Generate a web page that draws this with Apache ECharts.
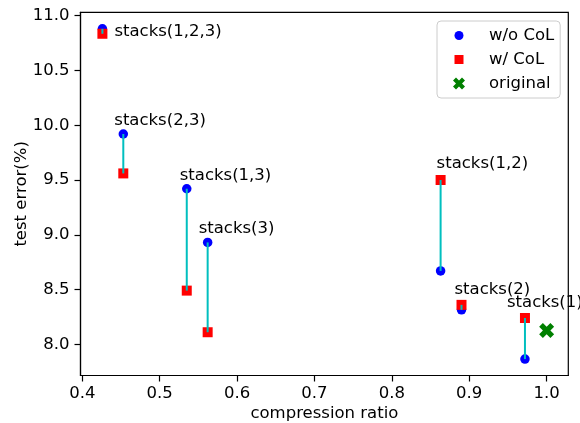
<!DOCTYPE html>
<html><head><meta charset="utf-8">
<script src="https://cdn.jsdelivr.net/npm/echarts@6/dist/echarts.min.js"></script>
<style>html,body{margin:0;padding:0;background:#fff}#c{width:580px;height:423px}</style>
</head><body><div id="c"></div>
<script>
const names = ['stacks(1,2,3)','stacks(2,3)','stacks(1,3)','stacks(3)','stacks(1,2)','stacks(2)','stacks(1)'];
const ratio = [0.426, 0.453, 0.535, 0.562, 0.863, 0.890, 0.972];
const woCoL = [10.88, 9.92, 9.42, 8.93, 8.67, 8.315, 7.865];
const wCoL  = [10.835, 9.56, 8.49, 8.11, 9.50, 8.36, 8.24];
const original = [[1.0, 8.125]];
const xTicks = [0.4, 0.5, 0.6, 0.7, 0.8, 0.9, 1.0];
const yTicks = [8.0, 8.5, 9.0, 9.5, 10.0, 10.5, 11.0];
// label pixel offsets (style only)
const labelOffsets = [[12,3],[-9,-13],[-7,-13],[-9,-14],[-4,-16],[-7,-15],[-18,-15]];

const FONT = 'DejaVu Sans';
const FS = 16.5;
const xPath = 'path://M0,3 L3,0 L6,3 L9,0 L12,3 L9,6 L12,9 L9,12 L6,9 L3,12 L0,9 L3,6 Z';
const legCircle = 'path://M0,0 M14,14 M11.5,7 A4.5,4.5 0 1 1 2.5,7 A4.5,4.5 0 1 1 11.5,7 Z';
const legRect = 'path://M0,0 M14,14 M2.5,2.5 L11.5,2.5 L11.5,11.5 L2.5,11.5 Z';
const legX = 'path://M0,0 M14,14 M1,4 L4,1 L7,4 L10,1 L13,4 L10,7 L13,10 L10,13 L7,10 L4,13 L1,10 L4,7 Z';
const chart = echarts.init(document.getElementById('c'), null, {renderer:'canvas'});
const pairs = ratio.map((x,i)=>[x, woCoL[i], wCoL[i], i]);
chart.setOption({
  animation:false,
  textStyle:{fontFamily:FONT},
  grid:{left:80.5, right:11.7, top:12.3, bottom:47.5, containLabel:false, outerBoundsMode:'none',
        show:true, borderColor:'#000', borderWidth:1.2, backgroundColor:'transparent'},
  xAxis:{type:'value', min:0.3977, max:1.028,
    name:'compression ratio', nameLocation:'middle', nameGap:30, nameMoveOverlap:false,
    nameTextStyle:{fontFamily:FONT, fontSize:FS, color:'#000'},
    axisLine:{show:true, onZero:false, lineStyle:{color:'#000', width:1.2}},
    axisTick:{show:true, length:6, inside:false, customValues:xTicks, lineStyle:{color:'#000', width:1.2}},
    axisLabel:{customValues:xTicks, fontFamily:FONT, fontSize:FS, color:'#000', margin:10, formatter:v=>v.toFixed(1)},
    splitLine:{show:false}},
  yAxis:{type:'value', min:7.715, max:11.031,
    name:'test error(%)', nameLocation:'middle', nameGap:50.5, nameRotate:90, nameMoveOverlap:false,
    nameTextStyle:{fontFamily:FONT, fontSize:FS, color:'#000'},
    axisLine:{show:true, onZero:false, lineStyle:{color:'#000', width:1.2}},
    axisTick:{show:true, length:6, customValues:yTicks, lineStyle:{color:'#000', width:1.2}},
    axisLabel:{customValues:yTicks, fontFamily:FONT, fontSize:FS, color:'#000', margin:11, formatter:v=>v.toFixed(1)},
    splitLine:{show:false}},
  legend:{
    orient:'vertical', left:437, top:21,
    data:[{name:'w/o CoL', icon:legCircle},{name:'w/ CoL', icon:legRect},{name:'original', icon:legX}],
    itemWidth:14, itemHeight:14, itemGap:7,
    padding:[6,6,6,15],
    borderColor:'#cccccc', borderWidth:1, borderRadius:4, backgroundColor:'rgba(255,255,255,0.8)',
    textStyle:{fontFamily:FONT, fontSize:FS, color:'#000', padding:[0,0,0,18]}
  },
  series:[
    {name:'w/o CoL', type:'scatter', symbol:'circle', symbolSize:9.5, itemStyle:{color:'#0000ff', opacity:1},
     data:ratio.map((x,i)=>[x, woCoL[i]]), z:2},
    {name:'w/ CoL', type:'scatter', symbol:'rect', symbolSize:10, itemStyle:{color:'#ff0000', opacity:1},
     data:ratio.map((x,i)=>[x, wCoL[i]]), z:2},
    {name:'original', type:'scatter', symbol:xPath, symbolSize:15, itemStyle:{color:'#008000', opacity:1},
     data:original, z:2},
    {name:'pairs', type:'custom', z:5, data:pairs, silent:true,
     renderItem:(params, api)=>{
       const x = api.value(0), a = api.value(1), b = api.value(2), i = api.value(3);
       const p1 = api.coord([x,a]), p2 = api.coord([x,b]);
       const top = a > b ? p1 : p2;
       const off = labelOffsets[i];
       return {type:'group', children:[
         {type:'line', shape:{x1:p1[0], y1:p1[1], x2:p2[0], y2:p2[1]}, style:{stroke:'#00bfbf', lineWidth:2}},
         {type:'text', x:top[0]+off[0], y:top[1]+off[1],
          style:{text:names[i], fill:'#000', font:FS+'px "DejaVu Sans"', textAlign:'left', textVerticalAlign:'middle'}}
       ]};
     }}
  ]
});
</script></body></html>
